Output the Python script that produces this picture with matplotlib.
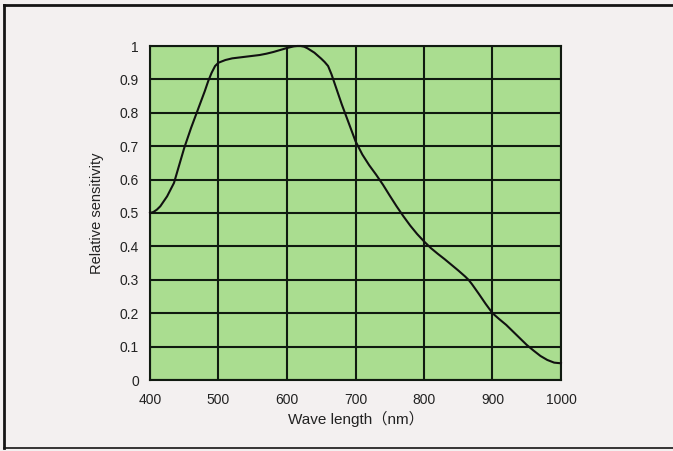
import matplotlib
matplotlib.use("Agg")
import matplotlib.pyplot as plt
from matplotlib.lines import Line2D

# Data
wavelength = [400, 405, 410, 415, 420, 425, 430, 435, 440, 445, 450, 460, 470,
              480, 485, 490, 495, 500, 510, 520, 540, 560, 570, 580, 590, 600,
              610, 615, 620, 625, 630, 640, 650, 655, 660, 665, 670, 675, 680,
              690, 700, 710, 720, 730, 740, 750, 760, 770, 780, 790, 800, 810,
              820, 830, 840, 850, 860, 865, 870, 880, 890, 900, 910, 920, 930,
              940, 950, 960, 970, 980, 990, 1000]
sensitivity = [0.50, 0.503, 0.51, 0.52, 0.535, 0.55, 0.57, 0.59, 0.625, 0.66,
               0.695, 0.755, 0.81, 0.865, 0.895, 0.92, 0.94, 0.95, 0.958, 0.963,
               0.968, 0.973, 0.977, 0.982, 0.988, 0.994, 0.999, 1.0, 1.0, 0.998,
               0.993, 0.98, 0.962, 0.952, 0.94, 0.915, 0.885, 0.855, 0.825, 0.77,
               0.715, 0.675, 0.643, 0.615, 0.585, 0.552, 0.52, 0.49, 0.462, 0.437,
               0.415, 0.395, 0.378, 0.362, 0.345, 0.328, 0.31, 0.30, 0.287, 0.258,
               0.228, 0.20, 0.182, 0.165, 0.145, 0.125, 0.105, 0.088, 0.072, 0.06,
               0.052, 0.05]
x_ticks = [400, 500, 600, 700, 800, 900, 1000]
y_ticks = [0, 0.1, 0.2, 0.3, 0.4, 0.5, 0.6, 0.7, 0.8, 0.9, 1]
y_tick_labels = ["0", "0.1", "0.2", "0.3", "0.4", "0.5", "0.6", "0.7", "0.8", "0.9", "1"]
x_label = "Wave length（nm）"
y_label = "Relative sensitivity"

W, H = 673, 451
fig = plt.figure(figsize=(W / 100, H / 100), dpi=100)
fig.patch.set_facecolor("#f3f0f0")

# page frame (top, left, bottom lines)
fig.add_artist(Line2D([4 / W, 1], [1 - 5 / H, 1 - 5 / H], transform=fig.transFigure,
                      color="#151515", lw=2.0))
fig.add_artist(Line2D([4 / W, 4 / W], [1 - 5 / H, 1 - 448 / H], transform=fig.transFigure,
                      color="#151515", lw=2.0))
fig.add_artist(Line2D([4 / W, 1], [1 - 448 / H, 1 - 448 / H], transform=fig.transFigure,
                      color="#151515", lw=1.2))

left, right, top, bottom = 150, 561, 46, 380
ax = fig.add_axes([left / W, 1 - bottom / H, (right - left) / W, (bottom - top) / H])
ax.set_facecolor("#aadd90")
ax.set_xlim(400, 1000)
ax.set_ylim(0, 1)
ax.set_xticks(x_ticks)
ax.set_yticks(y_ticks)
ax.set_yticklabels(y_tick_labels)
ax.grid(True, color="#101a10", lw=1.5)
ax.set_axisbelow(True)
ax.tick_params(length=0, labelsize=10, colors="#222222", pad=8)
ax.tick_params(axis="x", pad=9)
for lab in ax.get_xticklabels() + ax.get_yticklabels():
    lab.set_family(["Liberation Sans", "DejaVu Sans"])
for s in ax.spines.values():
    s.set_color("#101a10")
    s.set_linewidth(1.5)

ax.plot(wavelength, sensitivity, color="#111111", lw=1.5, clip_on=False, zorder=3,
        solid_joinstyle="round")

ax.set_xlabel(x_label, fontsize=11, color="#222222",
              family=["Liberation Sans", "Noto Sans CJK JP"], labelpad=3)
ax.set_ylabel(y_label, fontsize=10.5, color="#222222",
              family=["Liberation Sans", "DejaVu Sans"], labelpad=11)

fig.savefig("out.png", dpi=100, facecolor=fig.get_facecolor())
